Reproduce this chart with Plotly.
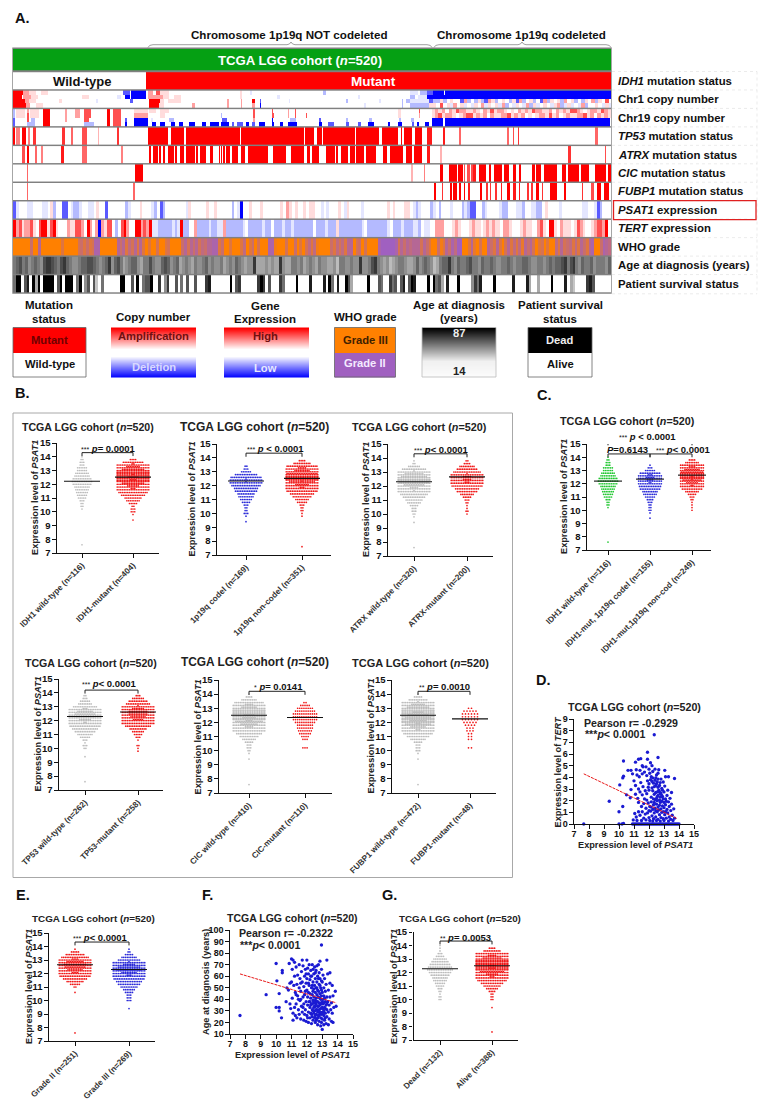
import numpy as np
import plotly.graph_objects as go

W, H = 764, 1102
FONT = "Liberation Sans"
N = 520
RWB = [[0, "#0000ff"], [0.5, "#ffffff"], [1, "#ff0000"]]
LEVELS_RWB = [[0, "#0000ff"], [.125, "#5a5aff"], [.25, "#b4baff"], [.375, "#e4e6ff"], [.5, "#ffffff"],
              [.625, "#ffdcdc"], [.75, "#ffa0a0"], [.875, "#ff5050"], [1, "#ff0000"]]
WR = [[0, "#ffffff"], [1, "#ff0000"]]
OP = [[0, "#ff8000"], [1, "#a060c0"]]
WK = [[0, "#ffffff"], [1, "#000000"]]

# ---------- heat map data (patient ranks / levels) ----------
ROW_LABELS = ["<i>IDH1</i> mutation status", "Chr1 copy number", "Chr19 copy number",
              "<i>TP53</i> mutation status", "<i>ATRX</i> mutation status", "<i>CIC</i> mutation status",
              "<i>FUBP1</i> mutation status", "<i>PSAT1</i> expression", "<i>TERT</i> expression",
              "WHO grade", "Age at diagnosis (years)", "Patient survival status"]
IDH1_RUNS = [(116, 520, 1)]
TP53_RUNS = [(0.3, 1.5, 1), (2.6, 6, .5), (8, 11, 1), (13.4, 15.4, .5), (17, 20, .8), (43, 45, .8), (50.5, 52, .6),
             (60, 63.5, .7), (73.7, 75, .3), (89.6, 91.6, .8), (117, 135.4, 1), (136.6, 148.8, 1), (150, 197, 1),
             (198, 253, 1), (254, 262, 1), (263.6, 269, 1), (270, 297, 1), (298, 318, 1), (321, 335, 1), (337, 338.5, 1),
             (339.6, 347, 1), (349.7, 356.5, 1), (360, 363.5, .9), (374, 375.6, .9), (387.5, 389.5, .6),
             (429.5, 431, .6), (434.7, 436, .7), (438.8, 440.2, .8), (505.8, 509.3, .6)]
ATRX_RUNS = [(8.4, 9.6, .7), (12, 14.2, 1), (19, 20.6, .6), (24.4, 26.4, .5), (42.4, 44, .9), (59.8, 63.5, .6), (94, 96, .5),
             (117.8, 120.4, 1), (121.5, 123.5, 1), (124.4, 126.4, 1), (127.3, 129.4, 1), (130.2, 131.7, 1), (135.2, 139.5, 1),
             (141, 143, 1), (144.7, 148.8, 1), (149.6, 157.5, 1), (159.2, 161.3, 1), (162.7, 168.5, 1), (171.4, 174.3, 1),
             (179, 180, 1), (181, 182.4, 1), (183, 184, 1), (185.3, 189.4, 1), (190.5, 196, 1), (197.5, 201.9, 1),
             (203.9, 222, 1), (226, 228.8, 1), (229.4, 236.7, 1), (242.4, 253.2, 1), (255.5, 258.4, 1), (259.9, 265.7, 1),
             (271.5, 280.2, 1), (281, 283, 1), (285, 290.9, 1), (292.6, 296.7, 1), (298.4, 305.4, 1), (307, 316.4, 1),
             (321.6, 325, 1), (328, 339, 1), (342.5, 347, 1), (349, 356.4, 1), (360, 363.4, .9), (371, 373, .3),
             (483, 484.6, .8), (515, 516.5, .7)]
CIC_RUNS = [(12, 13.4, .6), (106, 113.4, 1), (346.3, 348.3, .3), (357, 358.5, .5), (371, 374.4, 1), (378.8, 386, 1),
            (386.9, 391.2, 1), (391.8, 393.2, .7), (395.3, 397, .7), (398.2, 400, .7), (400.5, 403.4, .9), (404.9, 410.7, 1),
            (413.6, 415.9, 1), (417.9, 425.2, 1), (426.6, 431, 1), (434.7, 437.3, 1), (439.7, 441.7, 1), (451.3, 454.2, 1),
            (455, 459, 1), (462, 473, 1), (477.4, 481.1, 1), (483.2, 491.9, 1), (493.9, 500.6, 1), (506.4, 515.9, 1), (517, 520, 1)]
FUBP1_RUNS = [(12, 13.4, .6), (104, 106, .6), (366, 368, 1), (373, 374.4, .8), (380.2, 382, 1), (383, 386, 1), (388.3, 389.5, 1),
              (391.8, 393.2, 1), (395.6, 397, .9), (405.7, 407.8, 1), (410.7, 412.7, .8), (415, 416.5, .8), (419.4, 421.4, .8),
              (423.7, 425.4, .9), (429.5, 431.5, 1), (435.3, 437, .9), (439.7, 441.1, .9), (446.9, 448.6, .8), (450.4, 452.1, .8),
              (455, 457, 1), (460, 461.4, .8), (467.2, 473, 1), (478.8, 481.1, 1), (494.8, 496.2, .8), (503.4, 504.9, .7),
              (507.8, 511.3, 1), (513.6, 518, 1)]
CHR1_SUB0 = [(0, 9, 9), (9, 14, 7), (14, 20, 6), (24, 30, 6), (96, 102, 2), (103, 116, 0), (117, 122, 7), (124, 128, 8), (128, 136, 6),
             (197, 199, 6), (206, 208, 4), (270, 272, 3), (345, 352, 4), (354, 360, 3), (360, 365, 2), (365, 375, 0), (375.5, 520, 0)]
CHR1_SUB1 = [(0, 8, 9), (9, 16, 7), (16, 22, 6), (60, 66, 6), (90, 94, 4), (97, 102, 1), (103, 116, 0), (117, 121, 7), (121, 130, 7),
             (130, 136, 6), (140, 146, 6), (197, 199, 6), (230, 232, 4), (300, 302, 4), (345, 350, 3), (352, 360, 4), (360, 365, 1),
             (365, 520, 0)]
CHR1_SUB2 = [(0, 10, 9), (10, 14, 7), (14, 20, 6), (40, 43, 6), (72, 74, 4), (102, 104, 2), (118, 128, 9), (128, 131, 6), (135, 146, 6),
             (186, 188, 7), (198, 199, 7), (208, 210, 9), (215, 216, 2), (240, 241, 4), (290, 291, 3), (318, 320, 4), (338, 339, 3),
             (342, 345, 3), (345, 362, 4)]
CHR1_SUB3 = [(0, 11, 9), (11, 15, 7), (20, 26, 6), (118, 122, 9), (122, 127, 9), (127, 131, 6), (156, 158, 7), (186, 188, 7),
             (198, 199, 7), (208, 210, 7), (215, 216, 1), (305, 307, 4), (338, 339, 3), (345, 362, 3)]
CHR1_CODEL_LOW = "3446456553745464376456546374564537465647564546574658566"
CHR19_SUB0 = [(0, 1.7, 3), (3, 10, 6), (12, 14, 7), (15, 23, 6), (26, 31.6, 9), (45, 47, 7), (54, 58, 7), (62, 68, 8), (81.5, 84, 9),
              (87.3, 93.7, 8), (104.7, 116.8, 6), (118, 124, 6), (128, 136, 6), (209, 210, 8), (225, 226, 8), (239, 240, 7), (245, 246, 8),
              (335, 337, 6), (353, 354.5, 8)]
CHR19_SUB1 = [(0, 1.7, 3), (3, 10, 6), (12, 14, 8), (15, 23, 6), (26, 31.6, 9), (45, 47, 7), (54, 58, 7), (62, 68, 8), (81.5, 84, 9),
              (87.3, 93.7, 8), (104.7, 116.8, 7), (128, 132, 6), (181, 182, 3), (209, 210, 8), (225, 227, 8), (239, 240, 7), (245, 246, 8),
              (255, 256, 8), (335, 337, 6), (353, 354.5, 7)]
CHR19_SUB2 = [(0, 1.7, 2), (12, 14, 8), (16, 19, 3), (26, 31.6, 9), (45, 47, 7), (62, 66, 8), (81.5, 84, 9), (87.3, 93.7, 8), (97.4, 99, 2),
              (104.7, 116.8, 0), (120, 122, 4), (136, 140, 3), (182, 186, 2), (209, 210, 7), (225, 226, 1), (241, 246, 3), (266, 268, 2),
              (290, 291, 3), (310, 312, 3), (336, 337, 3), (346, 349, 3), (364, 374.4, 0), (375.8, 519.4, 0)]
CHR19_SUB3 = [(0, 1.7, 2), (12, 19, 3), (26, 31.6, 9), (62, 70, 3), (81.5, 84, 9), (87.3, 93.7, 8), (97.4, 99, 1), (104.7, 116.8, 0),
              (120.6, 123.6, 1), (127.9, 132.2, 1), (136.6, 141, 0), (143.9, 148.2, 1), (152.6, 158.4, 1), (164.2, 168.5, 0), (171.4, 178.7, 1),
              (180.7, 188.2, 1), (190.3, 192.3, 2), (194.6, 200.4, 2), (202.7, 204.8, 1), (208.5, 209.7, 2), (214.3, 219.3, 1), (225, 227, 0),
              (232.3, 234.6, 1), (238.7, 247.4, 1), (265.7, 269.4, 0), (274.4, 278.7, 2), (290.3, 292, 2), (300.5, 303.4, 2), (309.2, 313.5, 1),
              (326.5, 328, 1), (335.2, 338.2, 1), (346.8, 349, 2), (351, 353, 1), (358, 362, 1), (364, 374.4, 0), (375.8, 519.4, 0)]
CHR19_CODEL_HIGH = "6767576877667657686776565767687766757676887656776876"

PSAT1_LEVELS = ("2455544555445635522543345544565525555553455565554352355555554655555"
                "655655555354155655565555556576565565665545455565465555455555555656555"
                "665434555345355545553432255345555433555443554433565555455555554455423555")
TERT_LEVELS = ("9786778658996896555766887597570768853589755997879443333343493355733334334"
               "4733333345333334335333433433333335333433363333333345333333345333433"
               "34435445577755567655567665676766577655567665578659965766656876556788795")
WHO_LEVELS = ("0000005007000000030000045353488000000757364737303004003400005747574657"
              "78835003000360350400088100040050304636100005364637704504000089999984757"
              "677747530051375869900372040075373047363627574034030063745636375378005876")
AGE_LEVELS = ("5675645654788765786544566776545684675345664355754467645634543544564"
              "54453454654344833343433843355453454354433425544544844578543423455433464"
              "5654235668546556755465565445565455665445545656678578546556455546")
SURV_LEVELS = ("59906809390999906909990590460620500000099006090566900704700605060060007"
               "800000009067000000797060007500009000080000809508009630000090006500756068069"
               "800009095630800090000475800009000000800008300300009000080320000786000000")

# ---------- swarm data: counts per PSAT1 bin ----------
BIN_START, BIN_STEP = 7.6, 0.2
IDH_WT =    [1,0,0,0,0,0,0,0,0,0,0,0,0,1,2,2,3,5,6,7,8,9,11,12,11,9,8,6,6,3,3,2,1]
IDH_MUT =   [0,0,0,0,0,0,0,0,0,1,0,1,3,3,2,5,8,10,14,17,22,26,32,38,42,44,40,32,27,21,12,4,0]
CODEL =     [0,0,0,0,0,0,0,0,0,1,0,1,3,2,2,3,5,7,9,10,13,14,17,20,20,18,13,6,3,2,0,0,0]
NONCODEL =  [1,0,0,0,0,0,0,0,0,0,0,1,1,2,2,3,6,8,11,14,18,22,27,34,39,41,37,28,24,18,10,4,0]
ATRX_WT =   [1,0,0,0,0,0,0,0,0,1,0,1,2,3,3,5,8,10,13,16,20,24,31,36,38,34,30,20,14,7,2,1,0]
ATRX_MUT =  [0,0,0,0,0,0,0,0,0,0,0,0,1,2,1,1,2,3,5,8,12,14,18,22,24,24,20,16,12,9,4,2,0]
TP53_WT =   [1,0,0,0,0,0,0,0,0,1,0,0,2,3,1,3,6,9,12,15,18,21,26,30,31,28,22,14,8,6,3,2,0]
TP53_MUT =  [0,0,0,0,0,0,0,0,0,0,0,1,1,2,0,1,3,5,7,10,15,19,25,28,30,30,26,20,14,11,7,3,0]
CIC_WT =    [1,0,0,0,0,0,0,0,0,1,0,1,2,3,3,5,8,11,15,19,24,29,35,42,46,44,38,28,24,17,9,4,1]
CIC_MUT =   [0,0,0,0,0,0,0,0,0,0,0,0,0,3,0,0,3,4,6,7,8,8,10,12,12,12,10,8,5,2,0,0,0]
FUBP1_WT =  [1,0,0,0,0,0,0,0,0,1,0,1,3,3,3,5,9,13,17,22,28,34,41,48,53,50,44,32,27,20,11,5,1]
FUBP1_MUT = [0,0,0,0,0,0,0,0,0,0,0,0,0,2,0,0,2,2,2,3,3,4,5,6,6,6,5,2,0,0,0,0,0]
MUT_CODEL = [0,0,0,0,0,0,0,0,0,1,0,1,2,2,2,3,4,6,8,9,12,13,16,18,19,17,12,6,3,1,0,0,0]
MUT_NONCOD =[0,0,0,0,0,0,0,0,0,0,0,0,1,1,1,1,2,3,5,8,12,16,21,25,29,30,27,23,18,14,8,4,0]
GRADE_II =  [1,0,0,0,0,0,0,0,0,0,0,0,0,0,0,1,0,2,6,10,14,18,23,28,31,32,29,23,16,11,5,1,0]
GRADE_III = [0,0,0,0,0,0,0,0,0,1,0,0,3,3,3,5,7,10,13,15,18,22,28,33,32,26,20,13,9,5,2,1,0]
DEAD =      [0,0,0,0,0,0,0,0,0,0,0,0,2,2,1,2,3,5,6,8,9,11,13,15,14,12,10,8,5,3,1,1,1]
ALIVE =     [1,0,0,0,0,0,0,0,0,1,0,0,2,2,2,4,7,10,13,17,22,26,33,38,42,43,38,30,24,19,10,4,0]

GRAY, RED, BLUE, GREEN = "#bcbcbc", "#f01818", "#2a2ad8", "#22c832"

# pixel boxes of the plot areas and per-panel content
SWARMS = [
 dict(box=(57, 159, 443, 553), ticks=(82, 133), groups=[IDH_WT, IDH_MUT], colors=[GRAY, RED], means=[12.22, 12.52], tsize=10.6,
      labels=["IDH1 wild-type (n=116)", "IDH1-mutant (n=404)"], title=(88, 427), ylab=35,
      ptext=[(108, 448, "***", "<i>p</i>= 0.0001")], brackets=[(0, 1, 14.3, 14.05)]),
 dict(box=(217, 331, 444, 555), ticks=(246, 302), groups=[CODEL, NONCODEL], colors=[BLUE, RED], means=[12.33, 12.52], tsize=12,
      labels=["1p19q codel (n=169)", "1p19q non-codel (n=351)"], title=(254, 427), ylab=192,
      ptext=[(275, 448, "***", "<i>p</i> &lt; 0.0001")], brackets=[(0, 1, 14.34, 14.08)]),
 dict(box=(388, 493, 444, 556), ticks=(414, 467), groups=[ATRX_WT, ATRX_MUT], colors=[GRAY, RED], means=[12.3, 12.65], tsize=10.8,
      labels=["ATRX wild-type (n=320)", "ATRX-mutant (n=200)"], title=(419, 427), ylab=366,
      ptext=[(441, 449.5, "***", "<i>p</i>&lt; 0.0001")], brackets=[(0, 1, 14.3, 14.05)]),
 dict(box=(59, 163, 679, 790), ticks=(85, 138), groups=[TP53_WT, TP53_MUT], colors=[GRAY, RED], means=[12.3, 12.62], tsize=10.6,
      labels=["TP53 wild-type (n=262)", "TP53-mutant (n=258)"], title=(91, 663), ylab=37,
      ptext=[(109, 683, "***", "<i>p</i>&lt; 0.0001")], brackets=[(0, 1, 14.2, 13.95)]),
 dict(box=(219, 332, 680, 793), ticks=(249, 305), groups=[CIC_WT, CIC_MUT], colors=[GRAY, RED], means=[12.5, 12.35], tsize=11.9,
      labels=["CIC wild-type (n=410)", "CIC-mutant (n=110)"], title=(255, 662), ylab=197, steps=[1.75, 2.1],
      ptext=[(278, 686, "*", "<i>p</i>= 0.0141")], brackets=[(0, 1, 14.2, 13.95)]),
 dict(box=(392, 496, 680, 793), ticks=(418, 470), groups=[FUBP1_WT, FUBP1_MUT], colors=[GRAY, RED], means=[12.5, 12.25], tsize=11,
      labels=["FUBP1 wild-type (n=472)", "FUBP1-mutant (n=48)"], title=(420, 663), ylab=370, steps=[1.75, 3],
      ptext=[(444, 686, "**", "<i>p</i>= 0.0010")], brackets=[(0, 1, 14.2, 13.95)]),
 dict(box=(587, 711, 444, 550), ticks=(608, 650, 692), groups=[IDH_WT, MUT_CODEL, MUT_NONCOD], colors=[GREEN, BLUE, RED], tsize=10.8,
      means=[12.2, 12.35, 12.65], labels=["IDH1 wild-type (n=116)", "IDH1-mut, 1p19q codel (n=155)", "IDH1-mut,1p19q non-cod (n=249)"],
      title=(627, 421), ylab=564, half=13,
      ptext=[(647, 436, "***", "<i>p</i> &lt; 0.0001"), (627, 449, "", "<i>P</i>=0.6143"), (683, 449, "***", "<i>p</i>&lt; 0.0001")],
      brackets=[(0, 2, 15.15, 14.9), (0, 1, 14.25, 14.0), (1, 2, 14.25, 14.0)]),
 dict(box=(49, 155, 933, 1041), ticks=(75, 129), groups=[GRADE_II, GRADE_III], colors=[RED, BLUE], means=[12.65, 12.3], tsize=9.9,
      labels=["Grade II (n=251)", "Grade III (n=269)"], title=(93, 918), ylab=29,
      ptext=[(100, 937, "***", "<i>p</i>&lt; 0.0001")], brackets=[(0, 1, 14.33, 14.08)]),
 dict(box=(413.5, 518, 932, 1040), ticks=(440, 492), groups=[DEAD, ALIVE], colors=[GRAY, RED], means=[12.28, 12.5], tsize=9.8,
      labels=["Dead (n=132)", "Alive (n=388)"], title=(460, 918), ylab=394,
      ptext=[(466, 937, "**", "<i>p</i>= 0.0053")], brackets=[(0, 1, 14.33, 14.08)]),
]

# ---------- scatter data ----------
TERT_POINTS = [(7.65,0),(9.35,1.95),(10.0,1.05),(10.05,3.35),(10.25,3.95),(10.25,1.5),(10.3,5.4),(10.3,4.1),(10.6,4.6),(10.8,4.6),(10.5,2.5),(10.75,2.25),(10.8,2.95),(10.0,0),(10.2,0),(10.3,0.05),(10.9,4.3),(11.0,3.7),
(12.35,7.65),(11.9,6.15),(12.6,5.7),(11.9,5.55),(11.3,5.55),(11.45,5.6),(11.1,5.3),(12.1,5.25),(12.2,5.0),(11.8,4.9),(11.6,4.9),(12.0,4.7),(12.4,4.7),(12.65,4.65),(11.4,4.6),(13.1,4.05),(13.3,4.05),(13.7,3.9),(13.05,4.6),(11.2,4.2),(11.35,4.05),(11.55,4.3),(11.7,4.45),(11.85,4.15),(12.05,4.35),(12.25,4.5),(12.5,4.2),(12.6,4.35),(12.8,3.85),(12.95,3.6),(11.1,3.3),(11.3,3.0),(11.45,3.55),(11.6,3.2),(11.75,2.85),(11.9,3.7),(12.0,3.45),(12.1,3.8),(12.2,3.65),(12.3,3.5),(12.4,3.75),(12.45,3.3),(12.55,3.6),(12.7,3.3),(12.85,3.05),(13.05,3.25),(13.25,2.9),(13.5,2.7),(11.1,2.55),(11.25,2.2),(11.4,2.75),(11.55,2.5),(11.7,2.15),(11.85,2.6),(12.0,2.9),(12.15,2.3),(12.25,2.85),(12.35,2.55),(12.45,2.7),(12.5,2.2),(12.6,2.45),(12.65,2.9),(12.75,2.3),(12.8,2.65),(12.9,2.35),(13.0,2.75),(13.1,2.15),(13.2,2.45),(13.4,2.2),(12.4,2.1),(12.55,2.0),(12.7,2.05),(12.85,1.95),(13.0,1.85),(11.3,1.85),(11.5,1.5),(11.65,1.75),(11.8,1.35),(11.95,1.8),(12.05,1.5),(12.15,1.9),(12.3,1.65),(12.4,1.35),(12.5,1.7),(12.6,1.45),(12.7,1.6),(12.8,1.3),(12.9,1.55),(13.0,1.4),(13.1,1.65),(13.2,1.25),(13.35,1.5),(13.5,1.7),(13.65,1.3),(11.05,0.9),(11.15,0.6),(11.3,1.05),(11.4,0.75),(11.55,1.05),(11.65,0.5),(11.75,0.85),(11.9,0.95),(12.0,0.55),(12.1,1.1),(12.2,0.7),(12.3,0.45),(12.35,0.95),(12.45,0.6),(12.55,1.05),(12.6,0.4),(12.7,0.8),(12.8,0.55),(12.85,1.0),(12.95,0.45),(13.05,0.8),(13.15,0.5),(13.25,0.95),(13.35,0.6),(13.45,0.4),(13.55,0.75),(13.7,0.5),(10.95,0.35),(11.2,0.3),(11.5,0.3),(11.8,0.35),(12.05,0.3),(12.25,0.25),(12.5,0.3),(12.75,0.25),(13.0,0.3),(13.3,0.25),(13.6,0.3),(10.9,0),(11.0,0),(11.1,0),(11.2,0),(11.3,0),(11.4,0),(11.5,0),(11.6,0),(11.7,0),(11.8,0),(11.9,0),(12.0,0),(12.1,0),(12.2,0),(12.3,0),(12.4,0),(12.5,0),(12.6,0),(12.7,0),(12.8,0),(12.9,0),(13.0,0),(13.1,0),(13.2,0),(13.3,0),(13.4,0),(13.5,0),(13.6,0),(13.7,0),(13.8,0),(13.9,0),(14.0,0),
(12.2,3.1),(12.3,2.15),(12.45,1.15),(12.65,1.2),(12.75,1.85),(12.9,2.9),(12.35,3.2),(12.55,2.75),(12.6,3.15),(12.75,2.6),(12.95,2.15),(13.15,1.95),(12.15,1.45),(12.0,1.15),(11.85,2.05),(11.95,3.15),(11.15,4.65),(11.55,5.0),
(12.5,3.45),(12.7,2.75),(12.85,2.45),(12.55,2.35),(12.35,1.85),(12.25,1.25),(12.95,1.05),(13.1,1.05),(13.3,1.9),(13.45,1.15),(12.45,3.95),(12.25,3.95),(12.15,4.05),(12.75,3.55),(12.6,3.85)]
AGE_POINTS = [(7.65,26),(9.35,44),(10.0,33),(10.0,71),(10.05,56),(10.2,45),(10.2,33),(10.2,30),(10.35,24),(10.4,63),(10.4,65),(10.65,38),(10.7,50),(10.85,71),(11.0,75),(11.1,74),(11.2,72),(11.7,74),(12.0,74),(12.95,87),(13.3,74),(12.85,73),(13.5,63),(13.85,47),(13.9,34),(13.7,43),(13.7,20),(13.4,18),(13.0,14),(12.9,17),(10.9,36),(10.95,32),(11.05,66),(10.8,48),(10.9,54),(11.0,55),(11.05,41),(11.1,28),(11.1,22),(11.15,52),(11.2,60),(11.25,46),(11.25,26),(11.3,68),(11.3,36),(11.35,53),(11.35,24),(11.4,43),(11.4,61),(11.45,31),(11.5,70),(11.5,50),(11.5,27),(11.55,39),(11.55,58),(11.6,47),(11.6,23),(11.65,64),(11.65,34),(11.7,55),(11.7,29),(11.75,42),(11.75,69),(11.8,51),(11.8,36),(11.8,22),(11.85,60),(11.85,44),(11.9,31),(11.9,66),(11.95,38),(11.95,54),(12.0,48),(12.0,26),(12.0,58),(12.05,35),(12.05,42),(12.1,62),(12.1,29),(12.1,20),
(12.15,52),(12.15,38),(12.15,70),(12.2,45),(12.2,33),(12.2,24),(12.2,57),(12.25,41),(12.25,28),(12.25,65),(12.3,50),(12.3,36),(12.3,19),(12.3,60),(12.35,44),(12.35,31),(12.35,70),(12.35,25),(12.4,55),(12.4,39),(12.4,47),(12.4,22),(12.45,33),(12.45,62),(12.45,28),(12.45,42),(12.5,52),(12.5,37),(12.5,68),(12.5,24),(12.5,30),(12.55,46),(12.55,58),(12.55,34),(12.55,20),(12.6,41),(12.6,65),(12.6,27),(12.6,50),(12.6,36),(12.65,31),(12.65,55),(12.65,44),(12.65,23),(12.7,38),(12.7,60),(12.7,29),(12.7,48),(12.7,18),(12.75,34),(12.75,70),(12.75,42),(12.75,26),(12.8,53),(12.8,37),(12.8,31),(12.8,21),(12.8,63),(12.85,45),(12.85,28),(12.85,58),(12.85,35),(12.9,40),(12.9,24),(12.9,50),(12.9,32),(12.95,66),(12.95,37),(12.95,27),(12.95,20),(13.0,46),(13.0,33),(13.0,55),(13.0,23),(13.05,40),(13.05,29),(13.05,61),(13.05,36),(13.1,50),(13.1,26),(13.1,43),(13.1,18),(13.15,33),(13.15,58),(13.15,22),(13.2,38),(13.2,47),(13.2,28),(13.25,53),(13.25,35),(13.25,19),(13.3,42),(13.3,25),(13.3,31),(13.35,62),(13.35,38),(13.4,48),(13.4,29),(13.45,23),(13.45,35),(13.5,42),(13.5,54),(13.55,31),(13.6,37),(13.6,21),(13.65,52),(13.65,28),(13.75,33),(11.45,40),(11.6,54),(11.75,33),(11.9,47),(12.05,67),(12.1,46),(12.25,35),(12.35,52),(12.45,49),(12.55,39),(12.6,31),(12.65,38),(12.7,34),(12.75,30),(12.85,41),(12.9,36),(12.95,43),(13.0,38),(13.05,32),(13.1,37),(13.15,41),(13.2,32),(12.4,30),(12.5,34),(12.3,27),(12.2,38),(12.7,24),(12.8,26),(12.9,29),(13.0,28),(12.6,22),(12.45,37),(12.55,26),(12.35,36),(12.65,50),(12.75,47),(12.85,52),(12.95,56),(12.55,63),(12.4,66),(12.25,60),(12.65,69),(12.1,54),(11.95,62),(11.6,40),(11.3,44),(11.2,33),(11.85,27),(12.05,24),(11.95,21),(12.75,58),(12.95,48),(13.1,30),(13.3,36),(13.2,24)]
TERT_LINE_X, TERT_LINE_Y = [7.65, 13.9], [4.3, 0.45]
AGE_LINE_X, AGE_LINE_Y = [7.65, 13.9], [62, 37]

# ---------- legend colour ramps (not data) ----------
RAMP_RWB = np.concatenate([np.linspace(9, 5, 22), np.full(6, 5.0), np.linspace(5, 1, 22)]).tolist()
RAMP_AGE = np.concatenate([np.linspace(9, .5, 34), np.linspace(.5, .1, 16)]).tolist()


def fx(p): return p / W
def fy(p): return 1 - p / H


fig = go.Figure()
layout = dict(width=W, height=H, margin=dict(l=0, r=0, t=0, b=0, pad=0), paper_bgcolor="white", plot_bgcolor="rgba(0,0,0,0)",
              showlegend=False, font=dict(family=FONT, color="#111"), shapes=[], annotations=[], template="none")
axn = [0]


def new_axes(l, r, t, b, xr, yr, xopts=None, yopts=None):
    axn[0] += 1
    k = axn[0]
    s = "" if k == 1 else str(k)
    layout["xaxis" + s] = dict(domain=[fx(l), fx(r)], range=xr, anchor="y" + s, showgrid=False, zeroline=False, fixedrange=True, automargin=False, **(xopts or {}))
    layout["yaxis" + s] = dict(domain=[fy(b), fy(t)], range=yr, anchor="x" + s, showgrid=False, zeroline=False, fixedrange=True, automargin=False, **(yopts or {}))
    return "x" + s, "y" + s


def text(x, y, s, size=10, color="#111", anchor="center", angle=0, bold=True):
    layout["annotations"].append(dict(x=fx(x), y=fy(y), xref="paper", yref="paper", text=f"<b>{s}</b>" if bold else s,
                                      showarrow=False, xanchor=anchor, yanchor="middle", textangle=angle,
                                      font=dict(family=FONT, size=size, color=color)))


def rect(l, t, r, b, fill="rgba(0,0,0,0)", line=None, lw=1, layer="above", dash=None):
    layout["shapes"].append(dict(type="rect", xref="paper", yref="paper", x0=fx(l), x1=fx(r), y0=fy(t), y1=fy(b),
                                 fillcolor=fill, line=dict(color=line or "rgba(0,0,0,0)", width=lw if line else 0, dash=dash), layer=layer))


def pline(x0, y0, x1, y1, color, lw=1, dash=None):
    layout["shapes"].append(dict(type="line", xref="paper", yref="paper", x0=fx(x0), x1=fx(x1), y0=fy(y0), y1=fy(y1),
                                 line=dict(color=color, width=lw, dash=dash)))


def from_runs(runs, base=0.0):
    a = np.full(N, float(base))
    for s, e, v in runs:
        i = int(round(s))
        a[i:max(i + 1, int(round(e)))] = v
    return a


def digits(s): return [int(c) for c in s]


# ---------- A: heat map ----------
ROW_PX, ROW0, H_TOP, H_BOT, H_L, H_R = 18.46, 71.5, 47.5, 293.8, 13, 611
rect(H_L - .7, H_TOP, H_R + .7, H_BOT, fill="#808080", layer="below")
hx, hy = new_axes(H_L, H_R, H_TOP, H_BOT, [0, N], [(H_BOT - ROW0) / ROW_PX, (H_TOP - ROW0) / ROW_PX], dict(visible=False), dict(visible=False))


def strip(row, z, scale, zmin, zmax):
    z = np.atleast_2d(np.asarray(z, float))
    dx = N / z.shape[1]
    dy = 0.92 / z.shape[0]
    fig.add_trace(go.Heatmap(z=z.tolist(), x0=dx / 2, dx=dx, y0=row + 0.5 - 0.46 + dy / 2, dy=dy, colorscale=scale, zmin=zmin, zmax=zmax,
                             showscale=False, hoverinfo="skip", xaxis=hx, yaxis=hy))


rect(H_L, 49, H_R, 70.3, fill="#05a013", layer="above")
strip(0, from_runs(IDH1_RUNS), WR, 0, 1)
chr1 = np.array([from_runs(CHR1_SUB0, 5), from_runs(CHR1_SUB1, 5), from_runs(CHR1_SUB2, 5), from_runs(CHR1_SUB3, 5)])
for i, c in enumerate(CHR1_CODEL_LOW):
    chr1[2, 362 + i * 3:365 + i * 3] = int(c) - 1 if int(c) < 5 else int(c)
    chr1[3, 362 + i * 3:365 + i * 3] = int(CHR1_CODEL_LOW[-i - 1])
strip(1, chr1, LEVELS_RWB, 1, 9)
chr19 = np.array([from_runs(CHR19_SUB0, 5), from_runs(CHR19_SUB1, 5), from_runs(CHR19_SUB2, 5), from_runs(CHR19_SUB3, 5)])
for i, c in enumerate(CHR19_CODEL_HIGH):
    chr19[0, 364 + i * 3:367 + i * 3] = int(c)
    chr19[1, 364 + i * 3:367 + i * 3] = int(CHR19_CODEL_HIGH[-i - 1])
strip(2, chr19, LEVELS_RWB, 1, 9)
for r, runs in zip((3, 4, 5, 6), (TP53_RUNS, ATRX_RUNS, CIC_RUNS, FUBP1_RUNS)):
    strip(r, from_runs(runs), WR, 0, 1)
strip(7, digits(PSAT1_LEVELS), LEVELS_RWB, 1, 9)
strip(8, digits(TERT_LEVELS), LEVELS_RWB, 1, 9)
strip(9, digits(WHO_LEVELS), OP, 0, 9)
strip(10, digits(AGE_LEVELS), WK, -1, 10.5)
strip(11, digits(SURV_LEVELS), WK, 0, 9)

text(289, 34, "Chromosome 1p19q NOT codeleted", 11.6)
text(521, 34, "Chromosome 1p19q codeleted", 11.6)
text(300, 60.5, "TCGA LGG cohort (<i>n</i>=520)", 13.2, "white")
text(82, 81, "Wild-type", 13, "#111")
text(373, 81, "Mutant", 13.5, "white")
for l, r, tip in ((148, 432, 291), (434, 611, 522)):
    path = (f"M {fx(l)} {fy(47.5)} Q {fx(l+1)} {fy(44.7)} {fx(l+5)} {fy(44.7)} L {fx(tip-4)} {fy(44.7)} "
            f"Q {fx(tip-1)} {fy(44.5)} {fx(tip)} {fy(42)} Q {fx(tip+1)} {fy(44.5)} {fx(tip+4)} {fy(44.7)} "
            f"L {fx(r-5)} {fy(44.7)} Q {fx(r-1)} {fy(44.7)} {fx(r)} {fy(47.5)}")
    layout["shapes"].append(dict(type="path", xref="paper", yref="paper", path=path, line=dict(color="#777", width=.7)))
for i, lab in enumerate(ROW_LABELS):
    py = ROW0 + ROW_PX * (i + .5)
    text(615.5, py, lab, 11.4, "#111", "left")
    pline(612, ROW0 + ROW_PX * i, 757, ROW0 + ROW_PX * i, "#e2e2e2", .7, "dot")
pline(612, H_BOT, 757, H_BOT, "#e2e2e2", .7, "dot")
pline(757, ROW0, 757, H_BOT, "#e2e2e2", .7, "dot")
rect(613.5, 200.7, 756, 219.7, line="#e02020", lw=1.3)

# ---------- A: legends ----------
lx, ly = new_axes(0, W, 320, 385, [0, W], [385, 320], dict(visible=False), dict(visible=False))


def legend_box(l, r, levels, scale, zmin, zmax, t=327.5, b=377, border="#666"):
    dy = (b - t) / len(levels)
    fig.add_trace(go.Heatmap(z=[[v] for v in levels], x0=(l + r) / 2, dx=r - l, y0=t + dy / 2, dy=dy, colorscale=scale, zmin=zmin, zmax=zmax,
                             showscale=False, hoverinfo="skip", xaxis=lx, yaxis=ly))
    if border:
        rect(l, t, r, b, line=border, lw=.8)


legend_box(13, 86, [1, 0], WR, 0, 1)
legend_box(111, 196, RAMP_RWB, RWB, 1, 9, border=None)
legend_box(224, 309, RAMP_RWB, RWB, 1, 9, border=None)
legend_box(334.5, 395.5, [0, 9], OP, 0, 9)
legend_box(422, 496, RAMP_AGE, WK, 0, 9, border="#bbb")
legend_box(528, 592, [9, 0], WK, 0, 9)
for x, y, s in ((49, 305, "Mutation"), (49, 318.5, "status"), (153, 317, "Copy number"), (265, 306, "Gene"), (265, 319, "Expression"),
                (365, 317, "WHO grade"), (459, 305, "Age at diagnosis"), (459, 318, "(years)"), (560, 305, "Patient survival"), (560, 318.5, "status")):
    text(x, y, s, 11.5)
for x, y, s, c in ((49, 339.5, "Mutant", "#700000"), (50, 364, "Wild-type", "#111"), (153, 335.5, "Amplification", "#701010"), (154, 367, "Deletion", "#d8d8ff"),
                   (265, 336, "High", "#701010"), (265, 367.5, "Low", "#e8e8ff"), (365, 339.5, "Grade III", "#402000"), (365, 363, "Grade II", "#f4eaff"),
                   (459, 332.5, "87", "#eeeeee"), (459, 371, "14", "#222222"), (560, 339.5, "Dead", "#eeeeee"), (560, 364, "Alive", "#111")):
    text(x, y, s, 11.2, c)

# ---------- panel letters, frame ----------
for x, y, s in ((13, 18, "A."), (13, 393, "B."), (535, 395, "C."), (534, 680, "D."), (14, 895, "E."), (200, 895, "F."), (380, 895, "G.")):
    text(x, y, s, 14.5, "#111", "left")
rect(13, 413, 512.5, 877.5, line="#a8a8a8", lw=1)

AX = dict(showline=True, linecolor="#111", linewidth=1.1, ticks="outside", ticklen=3.5, tickwidth=1, tickcolor="#111", mirror=False)
TITLE = "TCGA LGG cohort (<i>n</i>=520)"
YLAB = "Expression level of <i>PSAT1</i>"


def ticks_y(vals, size=9.5):
    return dict(tickvals=vals, ticktext=[str(v) for v in vals], tickfont=dict(family=FONT, size=size, color="#111", weight=700))


def swarm_points(counts, center, px_unit, half, step=1.75):
    xs, ys = [], []
    maxc = max(3, int(2 * half / step))
    sub = [0, .075, -.075, .0375, -.0375, .11, -.11]
    for i, c in enumerate(counts):
        y = BIN_START + BIN_STEP * i
        left, r = c, 0
        while left > 0:
            k = min(left, maxc)
            for j in range(k):
                xs.append(center + (j - (k - 1) / 2) * step / px_unit)
                ys.append(y + sub[r % len(sub)])
            left -= k
            r += 1
    return xs, ys


for p in SWARMS:
    l, r, t, b = p["box"]
    tk = p["ticks"]
    unit = tk[1] - tk[0]
    half = p.get("half", 17)
    steps = p.get("steps", [1.75] * len(p["groups"]))
    xr = [(l - tk[0]) / unit, (r - tk[0]) / unit]
    xa, ya = new_axes(l, r, t, b, xr, [7, 15],
                      dict(tickvals=list(range(len(tk))), ticktext=p["labels"], tickangle=-45,
                           tickfont=dict(family=FONT, size=8.2, color="#333", weight=700), **AX),
                      dict(**ticks_y(list(range(7, 16))), **AX))
    for g, (cnt, col, m, st) in enumerate(zip(p["groups"], p["colors"], p["means"], steps)):
        xs, ys = swarm_points(cnt, g, unit, half, st)
        fig.add_trace(go.Scatter(x=xs, y=ys, mode="markers", marker=dict(size=1.7, color=col), hoverinfo="skip", xaxis=xa, yaxis=ya, cliponaxis=False))
        fig.add_trace(go.Scatter(x=[g - (half + 1) / unit, g + (half + 1) / unit], y=[m, m], mode="lines", line=dict(color="#111", width=1.1),
                                 hoverinfo="skip", xaxis=xa, yaxis=ya, cliponaxis=False))
    for g0, g1, top, leg in p["brackets"]:
        fig.add_trace(go.Scatter(x=[g0, g0, g1, g1], y=[leg, top, top, leg], mode="lines", line=dict(color="#222", width=1),
                                 hoverinfo="skip", xaxis=xa, yaxis=ya, cliponaxis=False))
    for x, y, stars, ptxt in p["ptext"]:
        star = f'<span style="font-size:7px;font-weight:normal">{stars}</span> ' if stars else ""
        layout["annotations"].append(dict(x=fx(x), y=fy(y), xref="paper", yref="paper", showarrow=False, xanchor="center", yanchor="middle",
                                          text=f"{star}<b>{ptxt}</b>", font=dict(family=FONT, size=9.5, color="#111")))
    text(p["title"][0], p["title"][1], TITLE, p["tsize"], "#222")
    text(p["ylab"], (t + b) / 2, YLAB, 9.2, "#222", angle=-90)

# ---------- D and F scatter ----------
SCATTERS = [
 dict(box=(574, 694, 719, 824), yr=[0, 9], yt=list(range(0, 10)), pts=TERT_POINTS, line=(TERT_LINE_X, TERT_LINE_Y), title=(634, 707), tsize=10.7,
      ylab=(557, "Expression level of <i>TERT</i>"), xlab=(635, 845), r=("Pearson r= -0.2929", 582, 722.5), p=(583, 734)),
 dict(box=(230, 353, 930, 1034), yr=[10, 100], yt=list(range(10, 101, 10)), pts=AGE_POINTS, line=(AGE_LINE_X, AGE_LINE_Y), title=(292, 918), tsize=10.5,
      ylab=(206, "Age at diagnosis (years)"), xlab=(292, 1054.5), r=("Pearson r= -0.2322", 237, 933), p=(238, 945)),
]
for s in SCATTERS:
    l, r, t, b = s["box"]
    xa, ya = new_axes(l, r, t, b, [7, 15], s["yr"], dict(ticklabelstandoff=-2, **ticks_y(list(range(7, 16)), 9), **AX), dict(**ticks_y(s["yt"], 9), **AX))
    fig.add_trace(go.Scatter(x=[q[0] for q in s["pts"]], y=[q[1] for q in s["pts"]], mode="markers", marker=dict(size=3.3, color="#1a1ad2"),
                             hoverinfo="skip", xaxis=xa, yaxis=ya, cliponaxis=False))
    fig.add_trace(go.Scatter(x=s["line"][0], y=s["line"][1], mode="lines", line=dict(color="#e81818", width=1, dash="3px,1px"),
                             hoverinfo="skip", xaxis=xa, yaxis=ya))
    text(s["title"][0], s["title"][1], TITLE, s["tsize"], "#222")
    text(s["ylab"][0], (t + b) / 2, s["ylab"][1], 9.2, "#222", angle=-90)
    text(s["xlab"][0], s["xlab"][1], YLAB, 9.2, "#222")
    text(s["r"][1], s["r"][2], s["r"][0], 10.6, "#222", "left")
    layout["annotations"].append(dict(x=fx(s["p"][0]), y=fy(s["p"][1]), xref="paper", yref="paper", showarrow=False, xanchor="left", yanchor="middle",
                                      text="<b>***<i>p</i>&lt; 0.0001</b>", font=dict(family=FONT, size=10.6, color="#222")))

fig.update_layout(**layout)
fig.write_html("out.html", config=dict(displayModeBar=False), post_script="document.body.style.margin='0';")
